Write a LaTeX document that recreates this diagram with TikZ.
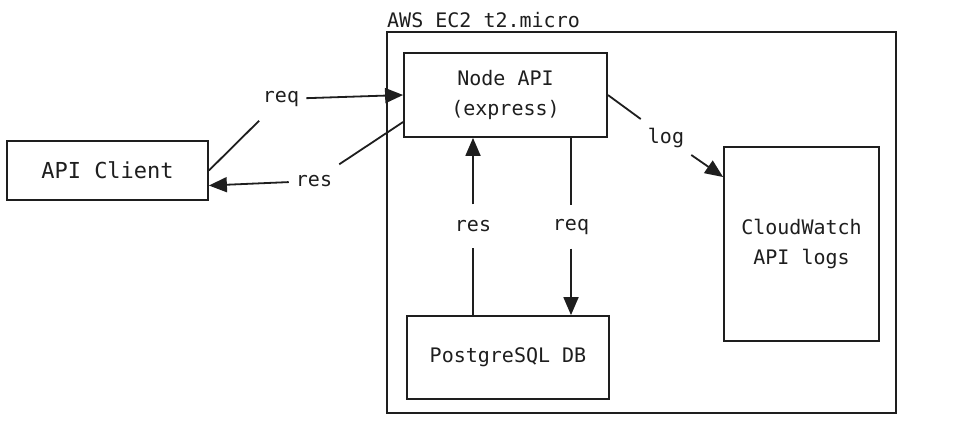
\documentclass[tikz,border=0pt]{standalone}
\usepackage{fontspec}
\setmonofont{DejaVu Sans Mono}
\usetikzlibrary{arrows.meta}
\definecolor{ink}{HTML}{1E1E1E}
\begin{document}
\begin{tikzpicture}[x=1pt,y=-1pt,
  box/.style={draw=ink,line width=1.8pt,inner sep=0pt,align=center,text=ink,
    font=\ttfamily\fontsize{20}{30}\selectfont},
  lbl/.style={inner xsep=7pt,inner ysep=0pt,minimum height=43pt,text=ink,
    font=\ttfamily\fontsize{20}{24}\selectfont},
  arr/.style={draw=ink,line width=1.8pt,-{Triangle[length=18pt,width=15pt]}}]
\useasboundingbox[fill=white] (0,0) rectangle (968,426);

\node[box,minimum width=201pt,minimum height=59pt,
  font=\ttfamily\fontsize{22}{30}\selectfont] (client) at (107.5,170.5) {API Client};
\node[box,minimum width=509pt,minimum height=381pt] (ec2) at (641.5,222.5) {};
\node[anchor=base west,inner sep=0pt,text=ink,
  font=\ttfamily\fontsize{20}{24}\selectfont] (ec2lbl) at (387,27) {AWS EC2 t2.micro};
\node[box,minimum width=203pt,minimum height=84pt] (api) at (505.5,95) {Node API\\(express)};
\node[box,minimum width=155pt,minimum height=194pt] (cw) at (801.5,244) {CloudWatch\\API logs};
\node[box,minimum width=202pt,minimum height=83pt] (pg) at (508,357.5) {PostgreSQL DB};

\node[lbl] (reqc) at (281,99) {req};
\node[lbl] (resc) at (314,181) {res};
\node[lbl] (logc) at (666,137.5) {log};
\node[lbl] (resv) at (473,226) {res};
\node[lbl] (reqv) at (571,227) {req};

\draw[arr] (client.east) -- (reqc) -- (api.west);
\draw[arr] ([yshift=-27pt]api.west) -- (resc) -- ([yshift=-15pt]client.east);
\draw[arr] (api.east) -- (logc) -- ([yshift=67pt]cw.west);
\draw[arr] (resv |- pg.north) -- (resv) -- (resv |- api.south);
\draw[arr] (reqv |- api.south) -- (reqv) -- (reqv |- pg.north);
\end{tikzpicture}
\end{document}
